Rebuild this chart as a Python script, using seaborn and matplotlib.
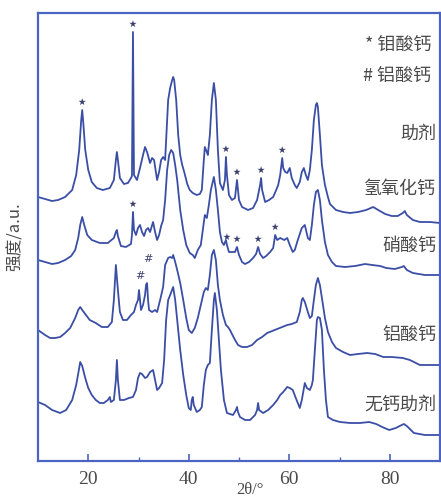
import numpy as np
import pandas as pd
import seaborn as sns
import matplotlib.pyplot as plt

# 2theta (deg) / intensity (a.u.), one pair of lists per sample
theta_caoh = [10.0, 11.4, 12.8, 14.0, 15.4, 16.8, 17.6, 18.2, 18.6, 18.8, 19.0, 19.4, 20.0, 20.7, 21.7, 22.9,
              24.3, 25.1, 25.5, 25.7, 25.9, 26.3, 27.1, 27.9, 28.5, 28.7, 28.8, 28.9, 29.0, 29.1, 29.7, 30.3,
              30.9, 31.3, 31.7, 32.3, 32.7, 33.1, 33.7, 34.1, 34.5, 34.9, 35.3, 35.5, 35.9, 36.3, 36.7, 36.9,
              37.1, 37.5, 37.9, 38.3, 38.7, 39.1, 39.7, 40.2, 40.8, 41.6, 42.2, 42.6, 43.0, 43.2, 43.6, 43.8,
              44.2, 44.6, 45.0, 45.4, 45.8, 46.2, 46.8, 47.2, 47.4, 47.6, 48.0, 48.6, 49.2, 49.6, 50.0, 50.6,
              51.8, 52.8, 53.6, 54.2, 54.4, 54.6, 55.2, 56.0, 56.8, 57.4, 57.8, 58.2, 58.6, 58.8, 59.2, 59.6,
              60.1, 60.5, 61.1, 61.5, 62.1, 62.5, 62.9, 63.3, 63.7, 64.1, 64.5, 64.9, 65.3, 65.5, 65.7, 66.1,
              66.5, 67.1, 67.7, 68.1, 69.3, 70.7, 72.1, 73.7, 75.3, 76.7, 77.7, 79.1, 80.4, 81.6, 82.6, 83.0,
              83.4, 84.6, 86.0, 88.0, 90.0]
inten_caoh = [264, 262, 260, 261, 264, 271, 286, 311, 341, 351, 339, 311, 291, 279, 273, 271,
              273, 281, 301, 309, 301, 283, 277, 278, 283, 285, 361, 429, 361, 286, 281, 293,
              306, 314, 309, 298, 303, 301, 281, 289, 301, 304, 301, 321, 361, 373, 381, 384,
              381, 361, 326, 306, 296, 289, 277, 271, 268, 266, 267, 271, 301, 314, 309, 306,
              326, 361, 378, 361, 311, 278, 271, 281, 304, 286, 266, 261, 263, 281, 261, 254,
              251, 253, 261, 276, 283, 271, 259, 261, 264, 271, 276, 286, 303, 293, 289, 288,
              293, 283, 276, 273, 279, 289, 293, 286, 281, 291, 311, 341, 356, 358, 354, 326,
              296, 276, 264, 257, 251, 249, 248, 249, 251, 254, 251, 247, 245, 245, 248, 250,
              246, 241, 239, 239, 238]

theta_cano3 = [10.0, 11.4, 12.8, 14.0, 15.4, 16.6, 17.4, 18.0, 18.4, 18.8, 19.2, 19.8, 20.7, 22.3, 23.9, 25.1,
               25.5, 25.7, 25.9, 26.5, 27.5, 28.5, 28.7, 28.9, 29.1, 29.5, 29.9, 30.3, 30.7, 31.1, 31.5, 31.9,
               32.3, 32.9, 33.3, 33.7, 34.1, 34.5, 34.9, 35.3, 35.7, 36.1, 36.5, 36.9, 37.3, 37.7, 38.3, 38.9,
               39.5, 40.2, 40.8, 41.2, 41.8, 42.4, 42.8, 43.2, 43.6, 44.0, 44.4, 45.0, 45.4, 45.8, 46.2, 46.6,
               47.0, 47.4, 47.6, 48.0, 48.6, 49.2, 49.6, 50.0, 50.6, 51.2, 52.0, 52.8, 53.4, 53.8, 54.2, 54.8,
               55.4, 56.2, 56.8, 57.2, 57.6, 58.2, 59.0, 59.6, 60.1, 60.7, 61.1, 61.7, 62.5, 63.1, 63.7, 64.1,
               64.5, 64.9, 65.3, 65.7, 66.1, 66.5, 67.1, 67.7, 68.5, 69.3, 71.1, 73.1, 75.1, 76.5, 78.1, 79.3,
               81.0, 82.4, 82.8, 83.4, 84.6, 87.0, 90.0]
inten_cano3 = [201, 199, 197, 198, 201, 205, 211, 223, 236, 244, 236, 226, 221, 218, 218, 223,
               229, 231, 225, 215, 214, 217, 226, 249, 231, 226, 233, 236, 229, 225, 231, 233,
               229, 239, 229, 221, 226, 235, 241, 261, 291, 306, 311, 308, 296, 281, 251, 231,
               216, 208, 206, 203, 211, 216, 231, 246, 243, 256, 271, 284, 271, 251, 229, 219,
               216, 221, 216, 209, 209, 209, 214, 206, 199, 197, 199, 203, 207, 214, 207, 203,
               205, 209, 213, 226, 221, 223, 221, 223, 216, 209, 211, 221, 233, 236, 223, 221,
               236, 256, 269, 271, 261, 241, 219, 206, 199, 195, 194, 195, 197, 196, 195, 193,
               192, 194, 195, 191, 188, 186, 186]

theta_caal = [10.0, 11.4, 12.4, 13.4, 14.4, 15.4, 16.4, 17.4, 18.0, 18.4, 18.8, 19.4, 20.3, 21.5, 22.7, 23.9,
              24.7, 25.1, 25.5, 25.9, 26.3, 26.9, 27.7, 28.5, 29.1, 29.5, 29.9, 30.1, 30.3, 30.5, 30.9, 31.3,
              31.5, 31.7, 31.9, 32.1, 32.7, 33.3, 33.7, 34.3, 34.9, 35.3, 35.9, 36.3, 36.7, 36.9, 37.3, 37.7,
              38.3, 38.9, 39.5, 40.0, 40.6, 41.2, 41.8, 42.4, 43.0, 43.4, 43.8, 44.2, 44.6, 45.0, 45.4, 45.8,
              46.2, 46.8, 47.4, 47.8, 48.2, 49.0, 49.8, 50.6, 51.6, 52.6, 53.6, 54.6, 55.6, 56.6, 57.6, 58.6,
              59.6, 60.5, 61.5, 62.1, 62.5, 62.7, 63.1, 63.7, 64.1, 64.5, 64.9, 65.3, 65.7, 66.1, 66.5, 67.1,
              67.7, 68.5, 69.3, 70.7, 72.1, 73.7, 75.5, 77.1, 78.7, 80.4, 82.6, 84.0, 86.0, 88.0, 90.0]
inten_caal = [131, 126, 123, 123, 124, 128, 133, 143, 151, 154, 151, 147, 141, 138, 134, 134,
              139, 161, 196, 171, 149, 141, 141, 146, 149, 156, 161, 171, 161, 151, 156, 166,
              176, 178, 161, 151, 149, 151, 149, 161, 174, 196, 203, 204, 203, 206, 199, 191,
              178, 161, 143, 131, 128, 133, 143, 156, 169, 173, 171, 186, 206, 211, 201, 176,
              161, 146, 136, 134, 131, 123, 116, 114, 114, 116, 121, 124, 128, 130, 132, 134,
              136, 137, 139, 149, 161, 163, 159, 149, 143, 145, 161, 176, 183, 176, 163, 143,
              129, 119, 113, 109, 106, 107, 108, 107, 104, 104, 103, 101, 96, 96, 96]

theta_noca = [10.0, 11.4, 12.8, 14.4, 15.6, 16.8, 17.6, 18.2, 18.4, 18.8, 19.4, 20.0, 20.7, 21.5, 22.3, 23.1,
              23.9, 24.3, 24.5, 25.1, 25.5, 25.7, 25.9, 26.3, 27.1, 28.1, 28.9, 29.5, 29.9, 30.3, 30.7, 31.3,
              31.7, 32.3, 32.9, 33.3, 33.7, 34.1, 34.7, 35.1, 35.5, 35.9, 36.3, 36.9, 37.3, 37.7, 38.3, 38.9,
              39.5, 40.0, 40.4, 40.6, 40.8, 41.0, 41.6, 42.2, 42.6, 43.0, 43.4, 43.8, 44.2, 44.6, 45.0, 45.2,
              45.6, 46.0, 46.4, 47.0, 47.6, 48.2, 48.8, 49.4, 49.6, 49.8, 50.2, 51.2, 52.2, 53.2, 53.6, 53.8,
              54.0, 54.8, 55.8, 56.8, 57.6, 58.2, 58.8, 59.6, 60.1, 60.7, 61.3, 62.1, 62.5, 63.1, 63.5, 64.1,
              64.5, 64.7, 65.1, 65.5, 65.7, 66.1, 66.5, 66.9, 67.3, 67.7, 68.7, 70.1, 72.1, 74.1, 75.9, 77.3,
              78.5, 79.9, 81.2, 82.8, 83.4, 84.8, 87.0, 90.0]
inten_noca = [59, 56, 51, 48, 51, 61, 76, 93, 99, 95, 83, 73, 66, 61, 58, 58,
              61, 64, 59, 61, 81, 101, 81, 61, 61, 63, 64, 71, 83, 88, 87, 83,
              84, 89, 91, 81, 71, 73, 78, 101, 141, 161, 166, 174, 161, 141, 111, 86,
              66, 53, 51, 61, 64, 56, 49, 51, 54, 76, 91, 96, 98, 131, 161, 168,
              151, 121, 91, 61, 48, 47, 46, 51, 54, 49, 44, 41, 41, 46, 51, 58,
              51, 48, 51, 56, 61, 66, 69, 74, 73, 71, 63, 53, 61, 78, 73, 71,
              76, 81, 111, 141, 144, 143, 131, 91, 61, 44, 41, 39, 38, 38, 39, 37,
              34, 31, 33, 37, 35, 28, 26, 26]

# phase markers: * = calcium molybdate, # = calcium aluminate
star_caoh = [18.8, 28.9, 47.4, 49.6, 54.4, 58.6]
star_cano3 = [28.9, 47.6, 49.6, 53.8, 57.2]
hash_caal = [30.1, 31.7]

samples = [
    ('氢氧化钙', theta_caoh, inten_caoh),
    ('硝酸钙', theta_cano3, inten_cano3),
    ('铝酸钙', theta_caal, inten_caal),
    ('无钙助剂', theta_noca, inten_noca),
]

line_col = '#3b4ea6'
frame_col = '#4a64c0'
text_col = '#4a4a4a'

sns.set_theme(style='white')
plt.rcParams['font.family'] = ['Liberation Serif', 'Noto Sans CJK SC', 'DejaVu Sans']

fig = plt.figure(figsize=(4.41, 4.99), dpi=100)
ax = fig.add_axes([38 / 441, 38 / 499, 402 / 441, 448 / 499])

frames = []
for name, th, it in samples:
    frames.append(pd.DataFrame({'theta': th, 'I': it, 'sample': name}))
df = pd.concat(frames, ignore_index=True)

sns.lineplot(data=df, x='theta', y='I', units='sample', estimator=None, sort=False,
             color=line_col, lw=1.3, ax=ax, legend=False)

# stars above calcium molybdate peaks
for th_list, th, it in [(star_caoh, theta_caoh, inten_caoh), (star_cano3, theta_cano3, inten_cano3)]:
    ys = np.interp(th_list, th, it) + 8
    sns.scatterplot(x=th_list, y=ys, marker='*', s=30, color='#3a3f70', edgecolor='none', ax=ax,
                    legend=False)

# hashes above calcium aluminate peaks (second one sits higher, as in the original)
for t, off in zip(hash_caal, [14, 24]):
    y = np.interp(t, theta_caal, inten_caal)
    ax.text(t + 0.2, y + off, '#', ha='center', va='center', fontsize=8, color='#3a3f70',
            family='DejaVu Sans')

ax.set_xlim(10, 90)
ax.set_ylim(0, 448)
ax.set_xticks([20, 40, 60, 80])
ax.set_xticks([30, 50, 70], minor=True)
ax.set_yticks([])
ax.tick_params(axis='x', which='major', direction='in', length=5, width=1.2, color=frame_col,
               pad=7, labelsize=14, labelcolor=text_col, bottom=True)
ax.tick_params(axis='x', which='minor', direction='in', length=3, width=1.0, color=frame_col,
               bottom=True)
ax.set_xlabel('')
ax.set_ylabel('')
for sp in ax.spines.values():
    sp.set_color(frame_col)
    sp.set_linewidth(1.6)

# labels on the right side
cjk = ['Noto Sans CJK SC', 'DejaVu Sans']
labels = [('* 钼酸钙', 88.3, 416), ('# 铝酸钙', 88.3, 385), ('助剂', 89.2, 327),
          ('氢氧化钙', 89.2, 272), ('硝酸钙', 89.2, 215), ('铝酸钙', 89.2, 126),
          ('无钙助剂', 89.2, 56)]
for txt, x, y in labels:
    ax.text(x, y, txt, ha='right', va='center', fontsize=13, color=text_col, family=cjk)

fig.text(15 / 441, 1 - 237 / 499, '强度/a.u.', rotation=90, ha='center', va='center',
         fontsize=12, color=text_col, family=cjk)
fig.text(250 / 441, 1 - 490 / 499, '2θ/°', ha='center', va='center', fontsize=12, color=text_col)

fig.savefig('out.png', dpi=100)
